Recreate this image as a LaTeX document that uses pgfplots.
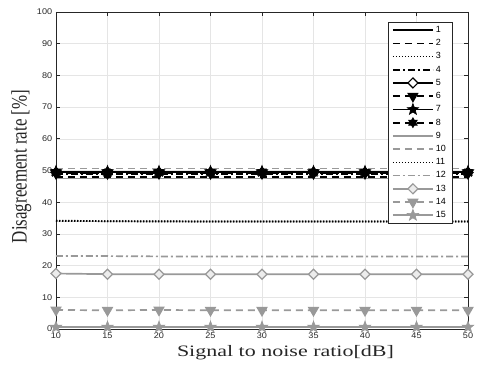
\documentclass[border=0pt]{standalone}
\usepackage{fontspec}
\setmainfont{Liberation Serif}
\setsansfont{Liberation Sans}
\usepackage{pgfplots}
\pgfplotsset{compat=1.18}
\definecolor{lg}{gray}{0.6}
\definecolor{ax}{gray}{0.15}
\definecolor{gridc}{gray}{0.9}
\pgfdeclareplotmark{fstar}{%
  \pgfpathmoveto{\pgfpointpolar{90}{\pgfplotmarksize}}%
  \pgfpathlineto{\pgfpointpolar{126}{0.42\pgfplotmarksize}}%
  \pgfpathlineto{\pgfpointpolar{162}{\pgfplotmarksize}}%
  \pgfpathlineto{\pgfpointpolar{198}{0.42\pgfplotmarksize}}%
  \pgfpathlineto{\pgfpointpolar{234}{\pgfplotmarksize}}%
  \pgfpathlineto{\pgfpointpolar{270}{0.42\pgfplotmarksize}}%
  \pgfpathlineto{\pgfpointpolar{306}{\pgfplotmarksize}}%
  \pgfpathlineto{\pgfpointpolar{342}{0.42\pgfplotmarksize}}%
  \pgfpathlineto{\pgfpointpolar{18}{\pgfplotmarksize}}%
  \pgfpathlineto{\pgfpointpolar{54}{0.42\pgfplotmarksize}}%
  \pgfpathclose\pgfusepathqfillstroke}
\pgfdeclareplotmark{hexa}{%
  \pgfpathmoveto{\pgfpointpolar{90}{\pgfplotmarksize}}%
  \pgfpathlineto{\pgfpointpolar{120}{0.58\pgfplotmarksize}}%
  \pgfpathlineto{\pgfpointpolar{150}{\pgfplotmarksize}}%
  \pgfpathlineto{\pgfpointpolar{180}{0.58\pgfplotmarksize}}%
  \pgfpathlineto{\pgfpointpolar{210}{\pgfplotmarksize}}%
  \pgfpathlineto{\pgfpointpolar{240}{0.58\pgfplotmarksize}}%
  \pgfpathlineto{\pgfpointpolar{270}{\pgfplotmarksize}}%
  \pgfpathlineto{\pgfpointpolar{300}{0.58\pgfplotmarksize}}%
  \pgfpathlineto{\pgfpointpolar{330}{\pgfplotmarksize}}%
  \pgfpathlineto{\pgfpointpolar{0}{0.58\pgfplotmarksize}}%
  \pgfpathlineto{\pgfpointpolar{30}{\pgfplotmarksize}}%
  \pgfpathlineto{\pgfpointpolar{60}{0.58\pgfplotmarksize}}%
  \pgfpathclose\pgfusepathqfillstroke}
\pgfdeclareplotmark{dmd}{%
  \pgfpathmoveto{\pgfqpoint{0pt}{\pgfplotmarksize}}%
  \pgfpathlineto{\pgfqpoint{\pgfplotmarksize}{0pt}}%
  \pgfpathlineto{\pgfqpoint{0pt}{-\pgfplotmarksize}}%
  \pgfpathlineto{\pgfqpoint{-\pgfplotmarksize}{0pt}}%
  \pgfpathclose\pgfusepathqfillstroke}
\tikzset{pl/.style={line width=1.7bp}}
\begin{document}
\begin{tikzpicture}
\begin{axis}[
  width=412bp, height=317bp, scale only axis,
  xmin=10, xmax=50, ymin=0, ymax=100,
  xtick={10,15,...,50}, ytick={0,10,...,100},
  grid=major, major grid style={gridc, line width=0.5bp},
  tick align=inside, major tick length=4bp,
  axis line style={ax, line width=0.6bp},
  tick style={ax, line width=0.6bp},
  ticklabel style={font=\sffamily\fontsize{8.3}{9}\selectfont, text=ax, xscale=1.1},
  /pgf/number format/assume math mode=true,
  xlabel={Signal to noise ratio[dB]},
  ylabel={Disagreement rate [\%]},
  label style={text=ax},
  xlabel style={font=\fontsize{16}{18}\selectfont, xscale=1.38, xshift=17bp},
  ylabel style={font=\fontsize{17}{18}\selectfont, yscale=1.3, yshift=-2bp, xshift=4bp},
  legend cell align=left,
  legend style={at={(0.961,0.968)}, anchor=north east, draw=ax,
    font=\sffamily\fontsize{9}{10}\selectfont, inner xsep=4bp, inner ysep=2bp, row sep=1.5bp,
    /tikz/every even column/.append style={column sep=1bp}},
  legend image code/.code={\draw[mark repeat=2, mark phase=2, #1] plot coordinates {(0bp,0bp) (20bp,0bp) (40bp,0bp)};},
  mark size=4bp,
]
\addplot[pl, black, solid] coordinates {(10,49.6)(15,49.6)(20,49.6)(25,49.6)(30,49.6)(35,49.6)(40,49.6)(45,49.6)(50,49.6)};
\addlegendentry{1}
\addplot[pl, black, dash pattern=on 7bp off 5bp] coordinates {(10,48.0)(15,48.0)(20,48.0)(25,48.0)(30,48.0)(35,48.0)(40,48.0)(45,48.0)(50,48.0)};
\addlegendentry{2}
\addplot[pl, black, dash pattern=on 1.4bp off 1.6bp] coordinates {(10,34.2)(15,34.0)(20,34.0)(25,33.9)(30,33.9)(35,33.9)(40,33.9)(45,33.9)(50,33.9)};
\addlegendentry{3}
\addplot[pl, black, dash pattern=on 7bp off 3bp on 2bp off 3bp] coordinates {(10,49.0)(15,49.0)(20,49.0)(25,49.0)(30,49.0)(35,49.0)(40,49.0)(45,49.0)(50,49.0)};
\addlegendentry{4}
\addplot[pl, black, solid, mark=dmd, mark size=5bp, mark options={fill=white, solid, line width=1.2bp}] coordinates {(10,49.4)(15,49.4)(20,49.4)(25,49.4)(30,49.4)(35,49.4)(40,49.4)(45,49.4)(50,49.4)};
\addlegendentry{5}
\addplot[pl, black, dash pattern=on 7bp off 5bp, mark=triangle*, mark size=5bp, mark options={solid, rotate=180, fill=black}] coordinates {(10,49.1)(15,49.1)(20,49.1)(25,49.1)(30,49.1)(35,49.1)(40,49.1)(45,49.1)(50,49.1)};
\addlegendentry{6}
\addplot[pl, black, solid, mark=fstar, mark size=6bp, mark options={solid, fill=black, line width=0.6bp}] coordinates {(10,49.7)(15,49.7)(20,49.7)(25,49.7)(30,49.7)(35,49.7)(40,49.7)(45,49.7)(50,49.7)};
\addlegendentry{7}
\addplot[pl, black, dash pattern=on 7bp off 5bp, mark=hexa, mark size=5bp, mark options={solid, fill=black, line width=0.6bp}] coordinates {(10,49.3)(15,49.3)(20,49.3)(25,49.3)(30,49.3)(35,49.3)(40,49.3)(45,49.3)(50,49.3)};
\addlegendentry{8}
\addplot[pl, lg, solid] coordinates {(10,47.5)(15,47.5)(20,47.5)(25,47.5)(30,47.5)(35,47.5)(40,47.5)(45,47.5)(50,47.5)};
\addlegendentry{9}
\addplot[pl, lg, dash pattern=on 7bp off 5bp] coordinates {(10,50.6)(15,50.6)(20,50.6)(25,50.6)(30,50.6)(35,50.6)(40,50.6)(45,50.6)(50,50.6)};
\addlegendentry{10}
\addplot[pl, black, dash pattern=on 1.4bp off 1.6bp] coordinates {(10,34.1)(15,34.0)(20,33.9)(25,33.9)(30,33.9)(35,33.9)(40,33.9)(45,33.9)(50,33.9)};
\addlegendentry{11}
\addplot[pl, lg, dash pattern=on 7bp off 3bp on 2bp off 3bp] coordinates {(10,23.0)(15,23.0)(20,22.9)(25,22.9)(30,22.9)(35,22.9)(40,22.9)(45,22.9)(50,22.9)};
\addlegendentry{12}
\addplot[pl, lg, solid, mark=dmd, mark size=5bp, mark options={solid, fill=gray!15, line width=1.2bp}] coordinates {(10,17.5)(15,17.3)(20,17.3)(25,17.3)(30,17.3)(35,17.3)(40,17.3)(45,17.3)(50,17.3)};
\addlegendentry{13}
\addplot[pl, lg, dash pattern=on 7bp off 5bp, mark=triangle*, mark size=5bp, mark options={solid, rotate=180, fill=lg}] coordinates {(10,6.0)(15,5.9)(20,6.0)(25,5.9)(30,5.9)(35,5.9)(40,5.9)(45,5.9)(50,5.9)};
\addlegendentry{14}
\addplot[pl, lg, solid, mark=fstar, mark size=6bp, mark options={solid, fill=lg, line width=0.6bp}] coordinates {(10,0.6)(15,0.6)(20,0.6)(25,0.6)(30,0.6)(35,0.6)(40,0.6)(45,0.6)(50,0.6)};
\addlegendentry{15}
\coordinate (sw) at (rel axis cs:0,0);
\coordinate (ne) at (rel axis cs:1,1);
\end{axis}
\pgfresetboundingbox
\path ([shift={(-56bp,-36bp)}]sw) rectangle ([shift={(9bp,12bp)}]ne);
\end{tikzpicture}
\end{document}
